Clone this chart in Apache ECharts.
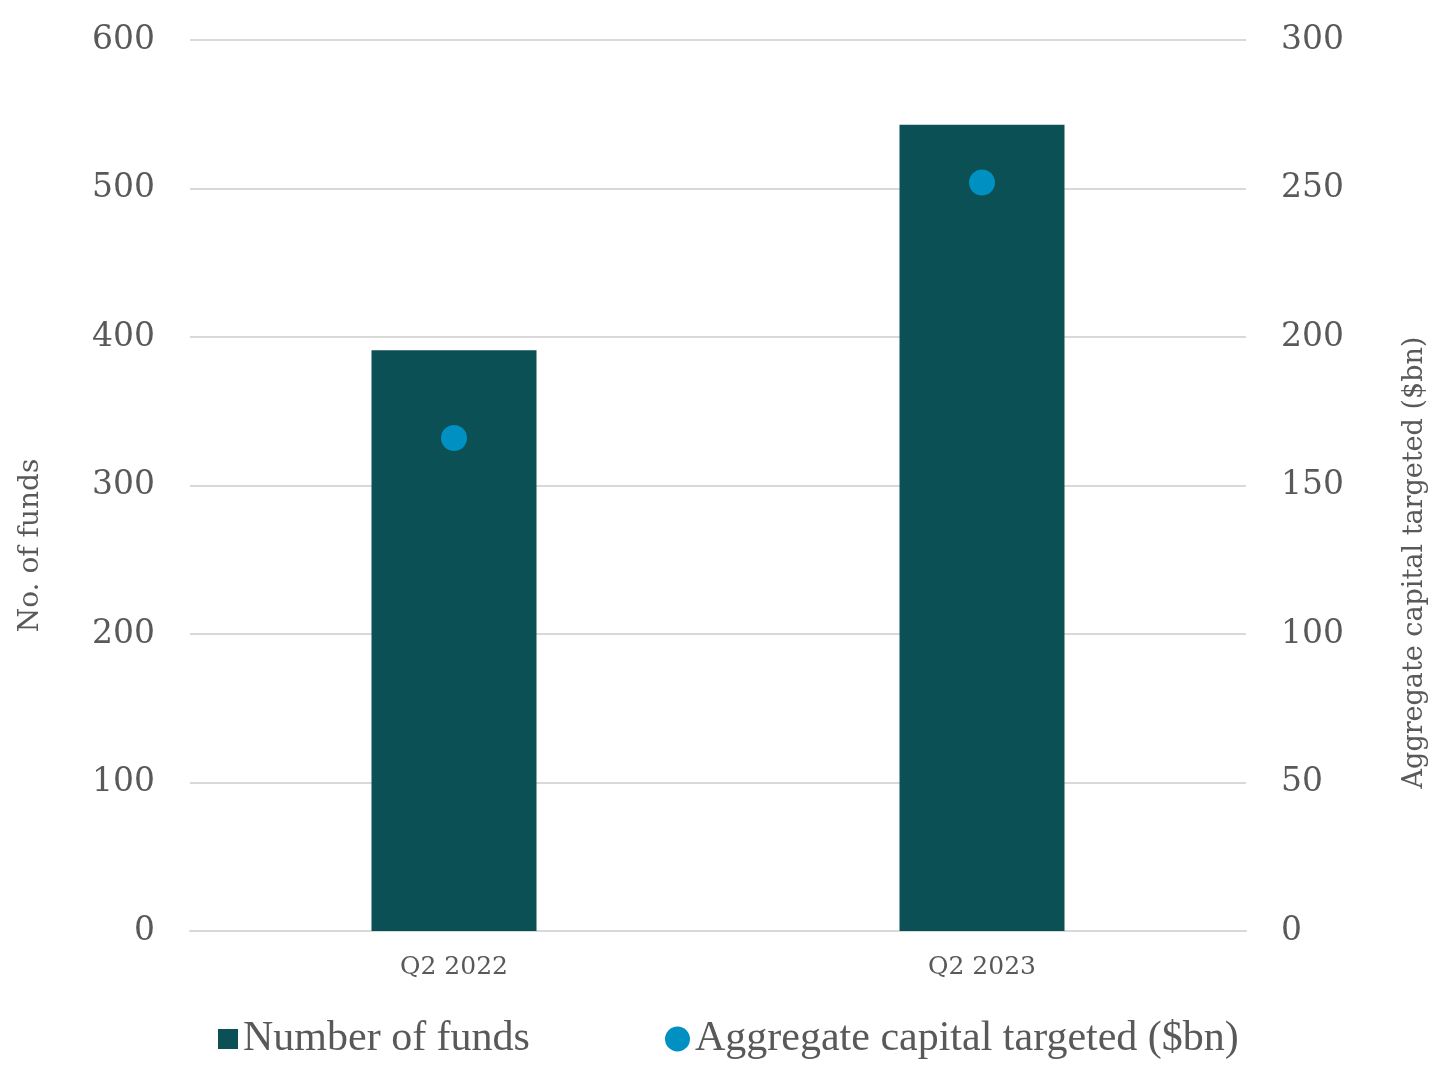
<!DOCTYPE html>
<html><head><meta charset="utf-8">
<script src="https://cdn.jsdelivr.net/npm/echarts@6/dist/echarts.min.js"></script>
<style>html,body{margin:0;padding:0;background:#fff}#c{width:1440px;height:1088px}</style>
</head><body><div id="c"></div>
<script>
const categories = ['Q2 2022', 'Q2 2023'];
const numberOfFunds = [391, 543];
const capitalTargeted = [166, 252];
const leftTicks = [0, 600, 100];
const rightTicks = [0, 300, 50];

const FONT = '"DejaVu Serif", serif';
const TXT = '#595959';
const chart = echarts.init(document.getElementById('c'));
chart.setOption({
  animation: false,
  grid: { left: 190, right: 194, top: 40, bottom: 157 },
  legend: [
    { data: [{ name: 'Number of funds', icon: 'rect' }], left: 213, top: 1013, itemWidth: 20, itemHeight: 20, itemGap: 8,
      textStyle: { fontFamily: '"Liberation Serif", serif', fontSize: 42, color: TXT } },
    { data: [{ name: 'Aggregate capital targeted ($bn)', icon: 'circle' }], left: 660, top: 1013, itemWidth: 25, itemHeight: 25,
      textStyle: { fontFamily: '"Liberation Serif", serif', fontSize: 42, color: TXT } }
  ],
  xAxis: {
    type: 'category', data: categories,
    axisLine: { lineStyle: { color: '#d9d9d9', width: 2 } },
    axisTick: { show: false },
    axisLabel: { fontFamily: FONT, fontSize: 25, color: TXT, margin: 24 }
  },
  yAxis: [
    { type: 'value', min: leftTicks[0], max: leftTicks[1], interval: leftTicks[2],
      name: 'No. of funds', nameLocation: 'middle', nameGap: 145, nameRotate: 90,
      nameTextStyle: { fontFamily: FONT, fontSize: 28, color: TXT, padding: [0, 120, 0, 0] },
      axisLabel: { fontFamily: FONT, fontSize: 33, color: TXT, margin: 35, padding: [10, 0, 0, 0] },
      splitLine: { lineStyle: { color: '#d9d9d9', width: 2 } },
      axisLine: { show: false }, axisTick: { show: false } },
    { type: 'value', min: rightTicks[0], max: rightTicks[1], interval: rightTicks[2], position: 'right',
      name: 'Aggregate capital targeted ($bn)', nameLocation: 'middle', nameGap: 155, nameRotate: 90,
      nameTextStyle: { fontFamily: FONT, fontSize: 27, color: TXT, padding: [0, 154, 0, 0] },
      axisLabel: { fontFamily: FONT, fontSize: 33, color: TXT, margin: 35, padding: [10, 0, 0, 0] },
      splitLine: { show: false },
      axisLine: { show: false }, axisTick: { show: false } }
  ],
  series: [
    { name: 'Number of funds', type: 'bar', data: numberOfFunds, barWidth: 165, yAxisIndex: 0,
      itemStyle: { color: '#0a5055' } },
    { name: 'Aggregate capital targeted ($bn)', type: 'scatter', data: capitalTargeted, yAxisIndex: 1,
      symbolSize: 26, itemStyle: { color: '#0090c2', opacity: 1 } }
  ]
});
</script></body></html>
